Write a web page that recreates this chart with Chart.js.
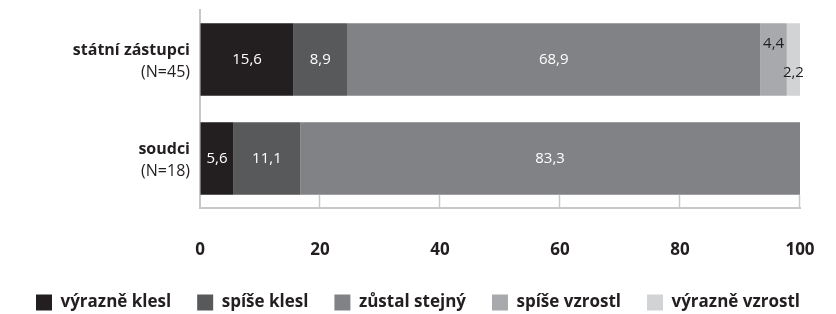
<!DOCTYPE html>
<html>
<head>
<meta charset="utf-8">
<script src="https://cdn.jsdelivr.net/npm/chart.js@4.4.1/dist/chart.umd.min.js"></script>
<style>html,body{margin:0;padding:0;background:#fff}</style>
</head>
<body>
<canvas id="chart" width="836" height="314"></canvas>
<script>
// data (percent)
const categories = ['státní zástupci', 'soudci'];
const groupSizes = ['(N=45)', '(N=18)'];
const seriesNames = ['výrazně klesl', 'spíše klesl', 'zůstal stejný', 'spíše vzrostl', 'výrazně vzrostl'];
const vyrazneKlesl = [15.6, 5.6];
const spiseKlesl = [8.9, 11.1];
const zustalStejny = [68.9, 83.3];
const spiseVzrostl = [4.4, 0];
const vyrazneVzrostl = [2.2, 0];
const xTicks = [0, 20, 40, 60, 80, 100];

const colors = ['#231f20', '#58595b', '#808285', '#a7a9ac', '#d1d3d4'];
const labelColors = ['#fff', '#fff', '#fff', '#231f20', '#231f20'];
const labelShift = [0, 0, 0, -16, 13];
const axisColor = '#c7c8ca';
const fontFamily = '"Open Sans"';
const legendGap = 26;

const series = [vyrazneKlesl, spiseKlesl, zustalStejny, spiseVzrostl, vyrazneVzrostl];

// value labels inside the bars
const barLabels = {
  id: 'barLabels',
  afterDatasetsDraw(chart) {
    const ctx = chart.ctx;
    ctx.save();
    ctx.font = '15px ' + fontFamily;
    ctx.textAlign = 'center';
    ctx.textBaseline = 'middle';
    chart.data.datasets.forEach((ds, i) => {
      chart.getDatasetMeta(i).data.forEach((bar, j) => {
        const v = ds.data[j];
        if (!v) return;
        ctx.fillStyle = labelColors[i];
        ctx.fillText(v.toFixed(1).replace('.', ','), (bar.x + bar.base) / 2, bar.y + labelShift[i]);
      });
    });
    ctx.restore();
  }
};

// two-line category labels: bold name, normal N
const categoryLabels = {
  id: 'categoryLabels',
  afterDraw(chart) {
    const ctx = chart.ctx;
    const y = chart.scales.y;
    const x = chart.chartArea.left - 10;
    ctx.save();
    ctx.textAlign = 'right';
    ctx.textBaseline = 'middle';
    ctx.fillStyle = '#231f20';
    categories.forEach((c, j) => {
      const cy = y.getPixelForValue(j);
      ctx.font = 'bold 16px ' + fontFamily;
      ctx.fillText(c, x, cy - 9);
      ctx.font = '16px ' + fontFamily;
      ctx.fillText(groupSizes[j], x, cy + 13);
    });
    ctx.restore();
  }
};

// short tick marks rising from the bottom axis
const tickMarks = {
  id: 'tickMarks',
  afterDraw(chart) {
    const ctx = chart.ctx;
    const xs = chart.scales.x;
    const b = chart.chartArea.bottom;
    ctx.save();
    ctx.strokeStyle = axisColor;
    ctx.lineWidth = 1.5;
    xTicks.forEach(v => {
      if (v === 0) return;
      const px = Math.round(xs.getPixelForValue(v)) - 0.5;
      ctx.beginPath();
      ctx.moveTo(px, b);
      ctx.lineTo(px, b - 13);
      ctx.stroke();
    });
    ctx.restore();
  }
};

new Chart(document.getElementById('chart'), {
  type: 'bar',
  data: {
    labels: categories,
    datasets: series.map((d, i) => ({
      label: seriesNames[i],
      data: d,
      backgroundColor: colors[i],
      borderWidth: 0,
      barPercentage: 0.73,
      categoryPercentage: 1
    }))
  },
  options: {
    indexAxis: 'y',
    responsive: false,
    animation: false,
    layout: { padding: { top: 10, right: 0, bottom: -7, left: 0 } },
    scales: {
      x: {
        stacked: true,
        min: 0,
        max: 100,
        afterBuildTicks: s => { s.ticks = xTicks.map(v => ({ value: v })); },
        afterFit: s => {
          s.height = 86 - legendGap;
          s.paddingLeft = 0;
          s.paddingRight = 0;
        },
        grid: { drawOnChartArea: false, drawTicks: false },
        border: { color: axisColor, width: 2 },
        ticks: {
          padding: 32,
          color: '#231f20',
          font: { family: fontFamily, size: 17, weight: 'bold' }
        }
      },
      y: {
        stacked: true,
        afterFit: s => { s.width = 200; },
        grid: { drawOnChartArea: false, drawTicks: false },
        border: { color: axisColor, width: 2 },
        ticks: { display: false }
      },
      yRight: {
        type: 'category',
        position: 'right',
        afterFit: s => { s.width = 36; },
        grid: { display: false },
        border: { display: false },
        ticks: { display: false }
      }
    },
    plugins: {
      legend: {
        position: 'bottom',
        labels: {
          boxWidth: 16,
          boxHeight: 16,
          padding: legendGap,
          color: '#231f20',
          font: { family: fontFamily, size: 17, weight: 'bold' }
        }
      },
      tooltip: { enabled: false }
    }
  },
  plugins: [barLabels, categoryLabels, tickMarks]
});
</script>
</body>
</html>
